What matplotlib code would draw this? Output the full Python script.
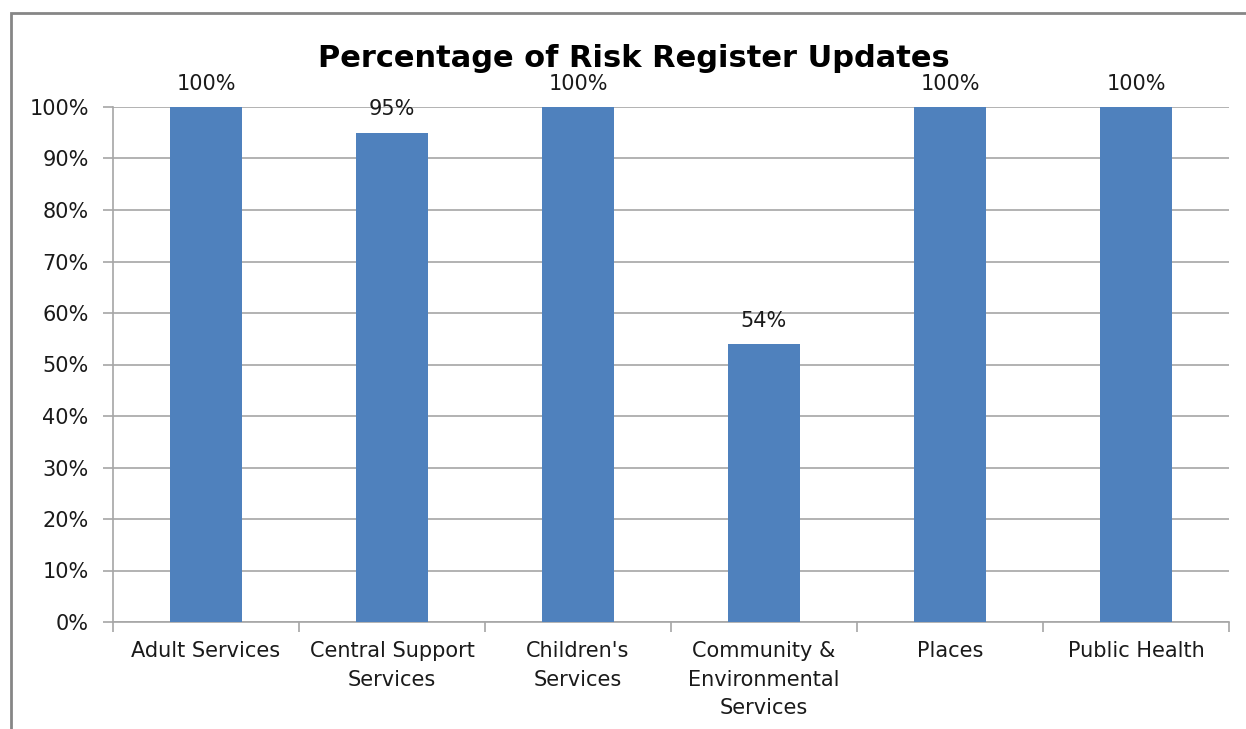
import matplotlib
matplotlib.use("Agg")
import matplotlib.pyplot as plt
from matplotlib.ticker import FixedLocator, NullFormatter
from matplotlib.patches import Rectangle

categories = ["Adult Services", "Central Support\nServices", "Children's\nServices",
              "Community &\nEnvironmental\nServices", "Places", "Public Health"]
values = [100, 95, 100, 54, 100, 100]
value_labels = ["100%", "95%", "100%", "54%", "100%", "100%"]
yticks = [0, 10, 20, 30, 40, 50, 60, 70, 80, 90, 100]
ytick_labels = [f"{v}%" for v in yticks]
title = "Percentage of Risk Register Updates"

plt.rcParams["font.family"] = ["DejaVu Sans"]

W, H = 1246, 729
fig = plt.figure(figsize=(W / 100, H / 100), dpi=100)
fig.patch.set_facecolor("white")

# outer chart border (left and top visible)
fig.add_artist(Rectangle((11 / W, -0.1), 1.2, (729 - 13) / H + 0.1, transform=fig.transFigure,
                         fill=False, edgecolor="#868686", linewidth=2))

ax = fig.add_axes([113 / W, (729 - 622) / H, (1229 - 113) / W, (622 - 107) / H])
x = list(range(len(categories)))
ax.bar(x, values, width=0.39, color="#4F81BD", zorder=3)
ax.set_xlim(-0.5, len(categories) - 0.5)
ax.set_ylim(0, 100)

ax.yaxis.set_major_locator(FixedLocator(yticks))
ax.set_yticklabels(ytick_labels)
ax.grid(axis="y", color="#A6A6A6", linewidth=1.2, zorder=0)

ax.set_xticks(x)
ax.set_xticklabels(categories, linespacing=1.53, va="top")
ax.tick_params(axis="x", which="major", length=0, pad=14)
ax.xaxis.set_minor_locator(FixedLocator([i - 0.5 for i in range(len(categories) + 1)]))
ax.xaxis.set_minor_formatter(NullFormatter())
ax.tick_params(axis="x", which="minor", length=7, color="#A6A6A6", width=1.2, direction="out")
ax.tick_params(axis="y", length=7, color="#A6A6A6", width=1.2, pad=10.5, direction="out")
ax.tick_params(labelsize=15, labelcolor="#1a1a1a")

for s in ["top", "right"]:
    ax.spines[s].set_visible(False)
for s in ["left", "bottom"]:
    ax.spines[s].set_color("#A6A6A6")
    ax.spines[s].set_linewidth(1.2)

for xi, v, lab in zip(x, values, value_labels):
    ax.annotate(lab, (xi, v), xytext=(0, 12.5), textcoords="offset points",
                ha="center", va="baseline", fontsize=15, color="#1a1a1a")

fig.text(634 / W, 1 - 67 / H, title, ha="center", va="baseline",
         fontsize=22, fontweight="bold", color="black")

fig.savefig("out.png", dpi=100)
